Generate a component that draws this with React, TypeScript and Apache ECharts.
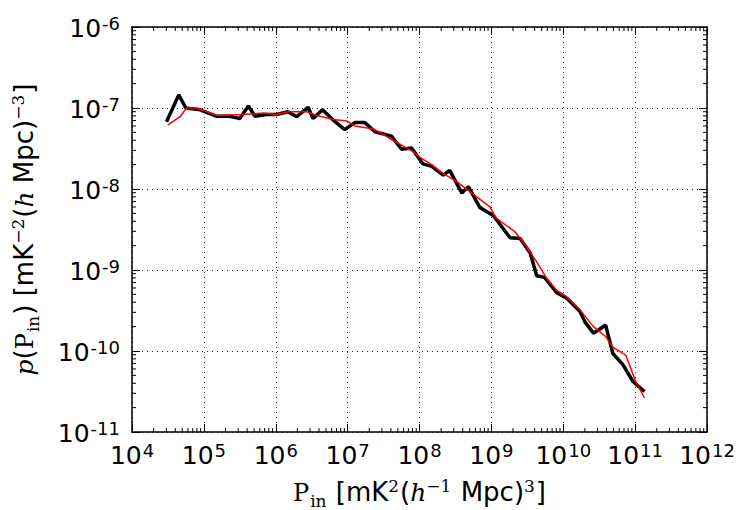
import React, { useEffect, useRef } from "react";
import * as echarts from "echarts";

const blackX = [3.02e4, 4.47e4, 5.62e4, 8.9e4, 1.51e5, 2.29e5, 3.16e5, 4.17e5, 5.13e5, 7.41e5, 1.02e6, 1.48e6, 1.95e6, 2.82e6, 3.31e6, 4.47e6, 6.31e6, 9.12e6, 1.26e7, 1.74e7, 2.4e7, 4.07e7, 5.62e7, 7.76e7, 1.12e8, 1.48e8, 2.14e8, 2.63e8, 3.89e8, 4.79e8, 6.92e8, 1.07e9, 1.82e9, 2.51e9, 3.47e9, 4.27e9, 5.5e9, 8.13e9, 1.12e10, 1.7e10, 2.0e10, 2.63e10, 3.09e10, 3.89e10, 4.9e10, 6.76e10, 9.33e10, 1.35e11];
const blackY = [6.76e-8, 1.45e-7, 1.0e-7, 9.5e-8, 7.9e-8, 7.9e-8, 7.4e-8, 1.06e-7, 7.9e-8, 8.3e-8, 8.3e-8, 9.0e-8, 7.8e-8, 1.02e-7, 7.4e-8, 9.5e-8, 7.1e-8, 5.4e-8, 6.6e-8, 6.6e-8, 5.1e-8, 4.5e-8, 3.1e-8, 3.2e-8, 2.04e-8, 1.9e-8, 1.48e-8, 1.7e-8, 8.9e-9, 1.07e-8, 5.9e-9, 4.68e-9, 2.5e-9, 2.45e-9, 1.62e-9, 8.5e-10, 8.1e-10, 5.25e-10, 4.47e-10, 3.1e-10, 2.29e-10, 1.66e-10, 1.82e-10, 2.09e-10, 9.3e-11, 6.8e-11, 4.2e-11, 3.16e-11];

const redX = [3.16e4, 4.68e4, 5.75e4, 7.94e4, 1.51e5, 3.55e5, 6.76e5, 1.02e6, 1.51e6, 2.69e6, 3.72e6, 6.31e6, 9.77e6, 1.26e7, 2.29e7, 3.16e7, 4.27e7, 5.89e7, 8.13e7, 1.02e8, 1.48e8, 2.14e8, 3.31e8, 5.01e8, 9.55e8, 1.17e9, 2.14e9, 3.09e9, 4.27e9, 5.89e9, 8.13e9, 1.12e10, 1.7e10, 2.63e10, 3.89e10, 4.9e10, 7.41e10, 1.0e11, 1.35e11];
const redY = [6.2e-8, 7.8e-8, 1.0e-7, 1.0e-7, 8.1e-8, 8.3e-8, 8.7e-8, 8.3e-8, 9.0e-8, 9.0e-8, 8.1e-8, 7.2e-8, 6.9e-8, 6.0e-8, 5.5e-8, 4.7e-8, 4.0e-8, 3.4e-8, 2.9e-8, 2.45e-8, 2.0e-8, 1.55e-8, 1.23e-8, 9.3e-9, 6.0e-9, 4.37e-9, 2.95e-9, 1.95e-9, 1.26e-9, 7.9e-10, 5.6e-10, 4.68e-10, 3.24e-10, 2.0e-10, 1.51e-10, 1.12e-10, 8.9e-11, 4.37e-11, 2.63e-11];

const xMin = 1e4;
const xMax = 1e12;
const yMin = 1e-11;
const yMax = 1e-6;
const xDecades = [4, 5, 6, 7, 8, 9, 10, 11];
const yDecades = [-11, -10, -9, -8, -7];
const minorMultipliers = [2, 3, 4, 5, 6, 7, 8, 9];

const xTitle = "{P|P}{sub|in}{t| [mK}{sup|2}{t|(}{it|h}{sup|−1}{t| Mpc)}{sup|3}{t|]}";
const yTitle = "{it|p}{t|(}{P|P}{sub|in}{t|) [mK}{sup|−2}{t|(}{it|h}{t| Mpc)}{sup|−3}{t|]}";

const SANS = "DejaVu Sans";
const SERIF = "DejaVu Serif";

export default function App() {
  const ref = useRef<HTMLDivElement>(null);
  useEffect(() => {
    document.body.style.margin = "0";
    if (!ref.current) return;
    const chart = echarts.init(ref.current, undefined, { renderer: "svg" });

    const minorData: number[][] = [];
    xDecades.forEach((d) => minorMultipliers.forEach((m) => minorData.push([m * Math.pow(10, d), yMin, 0])));
    yDecades.forEach((d) => minorMultipliers.forEach((m) => minorData.push([xMin, m * Math.pow(10, d), 1])));

    const tickRich = {
      b: { fontFamily: SANS, fontSize: 25, color: "#000", lineHeight: 28, verticalAlign: "bottom" },
      s: { fontFamily: SANS, fontSize: 18, color: "#000", lineHeight: 28, verticalAlign: "bottom", padding: [0, 0, 9, 1] },
    };
    const fmt = (v: number) => {
      const e = Math.round(Math.log10(v));
      return `{b|10}{s|${e}}`;
    };

    const gridLine = { show: true, lineStyle: { color: "#000", width: 1, type: [1, 4] as any, opacity: 0.85 } };
    const majorTick = { show: true, inside: true, length: 8, lineStyle: { color: "#000", width: 1 } };
    const axisLine = { show: true, lineStyle: { color: "#000", width: 1.5 } };

    const nameRich = {
      P: { fontFamily: SERIF, fontSize: 24, color: "#000", lineHeight: 30, verticalAlign: "bottom" },
      sub: { fontFamily: SERIF, fontSize: 17, color: "#000", lineHeight: 30, verticalAlign: "bottom", padding: [0, 1, -4, 1] },
      t: { fontFamily: SANS, fontSize: 26, color: "#000", lineHeight: 30, verticalAlign: "bottom" },
      sup: { fontFamily: SERIF, fontSize: 17, color: "#000", lineHeight: 30, verticalAlign: "bottom", padding: [0, 1, 11, 0] },
      it: { fontFamily: SERIF, fontStyle: "italic", fontSize: 25, color: "#000", lineHeight: 30, verticalAlign: "bottom" },
    };

    chart.setOption({
      animation: false,
      backgroundColor: "#fff",
      grid: { left: 132, right: 31, top: 27, bottom: 78, containLabel: false, outerBoundsMode: "none" } as any,
      xAxis: [
        {
          type: "log",
          logBase: 10,
          min: xMin,
          max: xMax,
          interval: 1,
          position: "bottom",
          axisLine,
          axisTick: majorTick,
          splitLine: gridLine,
          axisLabel: { formatter: fmt, margin: 8, rich: tickRich },
          name: xTitle,
          nameLocation: "middle",
          nameGap: 43,
          nameTextStyle: { rich: nameRich },
        },
        {
          type: "log",
          logBase: 10,
          min: xMin,
          max: xMax,
          interval: 1,
          position: "top",
          axisLine,
          axisTick: majorTick,
          splitLine: { show: false },
          axisLabel: { show: false },
        },
      ],
      yAxis: [
        {
          type: "log",
          logBase: 10,
          min: yMin,
          max: yMax,
          interval: 1,
          position: "left",
          axisLine,
          axisTick: majorTick,
          splitLine: gridLine,
          axisLabel: { formatter: fmt, margin: 12, rich: tickRich },
          name: yTitle,
          nameLocation: "middle",
          nameRotate: 90,
          nameGap: 95,
          nameTextStyle: { rich: nameRich },
        },
        {
          type: "log",
          logBase: 10,
          min: yMin,
          max: yMax,
          interval: 1,
          position: "right",
          axisLine,
          axisTick: majorTick,
          splitLine: { show: false },
          axisLabel: { show: false },
        },
      ],
      series: [
        {
          type: "line",
          xAxisIndex: 0,
          yAxisIndex: 0,
          data: blackX.map((x, i) => [x, blackY[i]]),
          showSymbol: false,
          symbol: "none",
          lineStyle: { color: "#000", width: 3.5 },
          z: 3,
        },
        {
          type: "line",
          xAxisIndex: 0,
          yAxisIndex: 0,
          data: redX.map((x, i) => [x, redY[i]]),
          showSymbol: false,
          symbol: "none",
          lineStyle: { color: "#ff0000", width: 1.5 },
          z: 4,
        },
        {
          type: "custom",
          xAxisIndex: 0,
          yAxisIndex: 0,
          silent: true,
          z: 5,
          encode: { x: 0, y: 1 },
          data: minorData,
          renderItem: (params: any, api: any) => {
            const kind = api.value(2);
            const st = { stroke: "#000", lineWidth: 1 };
            if (kind === 0) {
              const v = api.value(0);
              const b = api.coord([v, yMin]);
              const t = api.coord([v, yMax]);
              return {
                type: "group",
                children: [
                  { type: "line", shape: { x1: b[0], y1: b[1], x2: b[0], y2: b[1] - 4 }, style: st },
                  { type: "line", shape: { x1: t[0], y1: t[1], x2: t[0], y2: t[1] + 4 }, style: st },
                ],
              };
            }
            const v = api.value(1);
            const l = api.coord([xMin, v]);
            const r = api.coord([xMax, v]);
            return {
              type: "group",
              children: [
                { type: "line", shape: { x1: l[0], y1: l[1], x2: l[0] + 4, y2: l[1] }, style: st },
                { type: "line", shape: { x1: r[0], y1: r[1], x2: r[0] - 4, y2: r[1] }, style: st },
              ],
            };
          },
        },
      ],
    });
    return () => chart.dispose();
  }, []);
  return <div ref={ref} style={{ width: 738, height: 510 }} />;
}
